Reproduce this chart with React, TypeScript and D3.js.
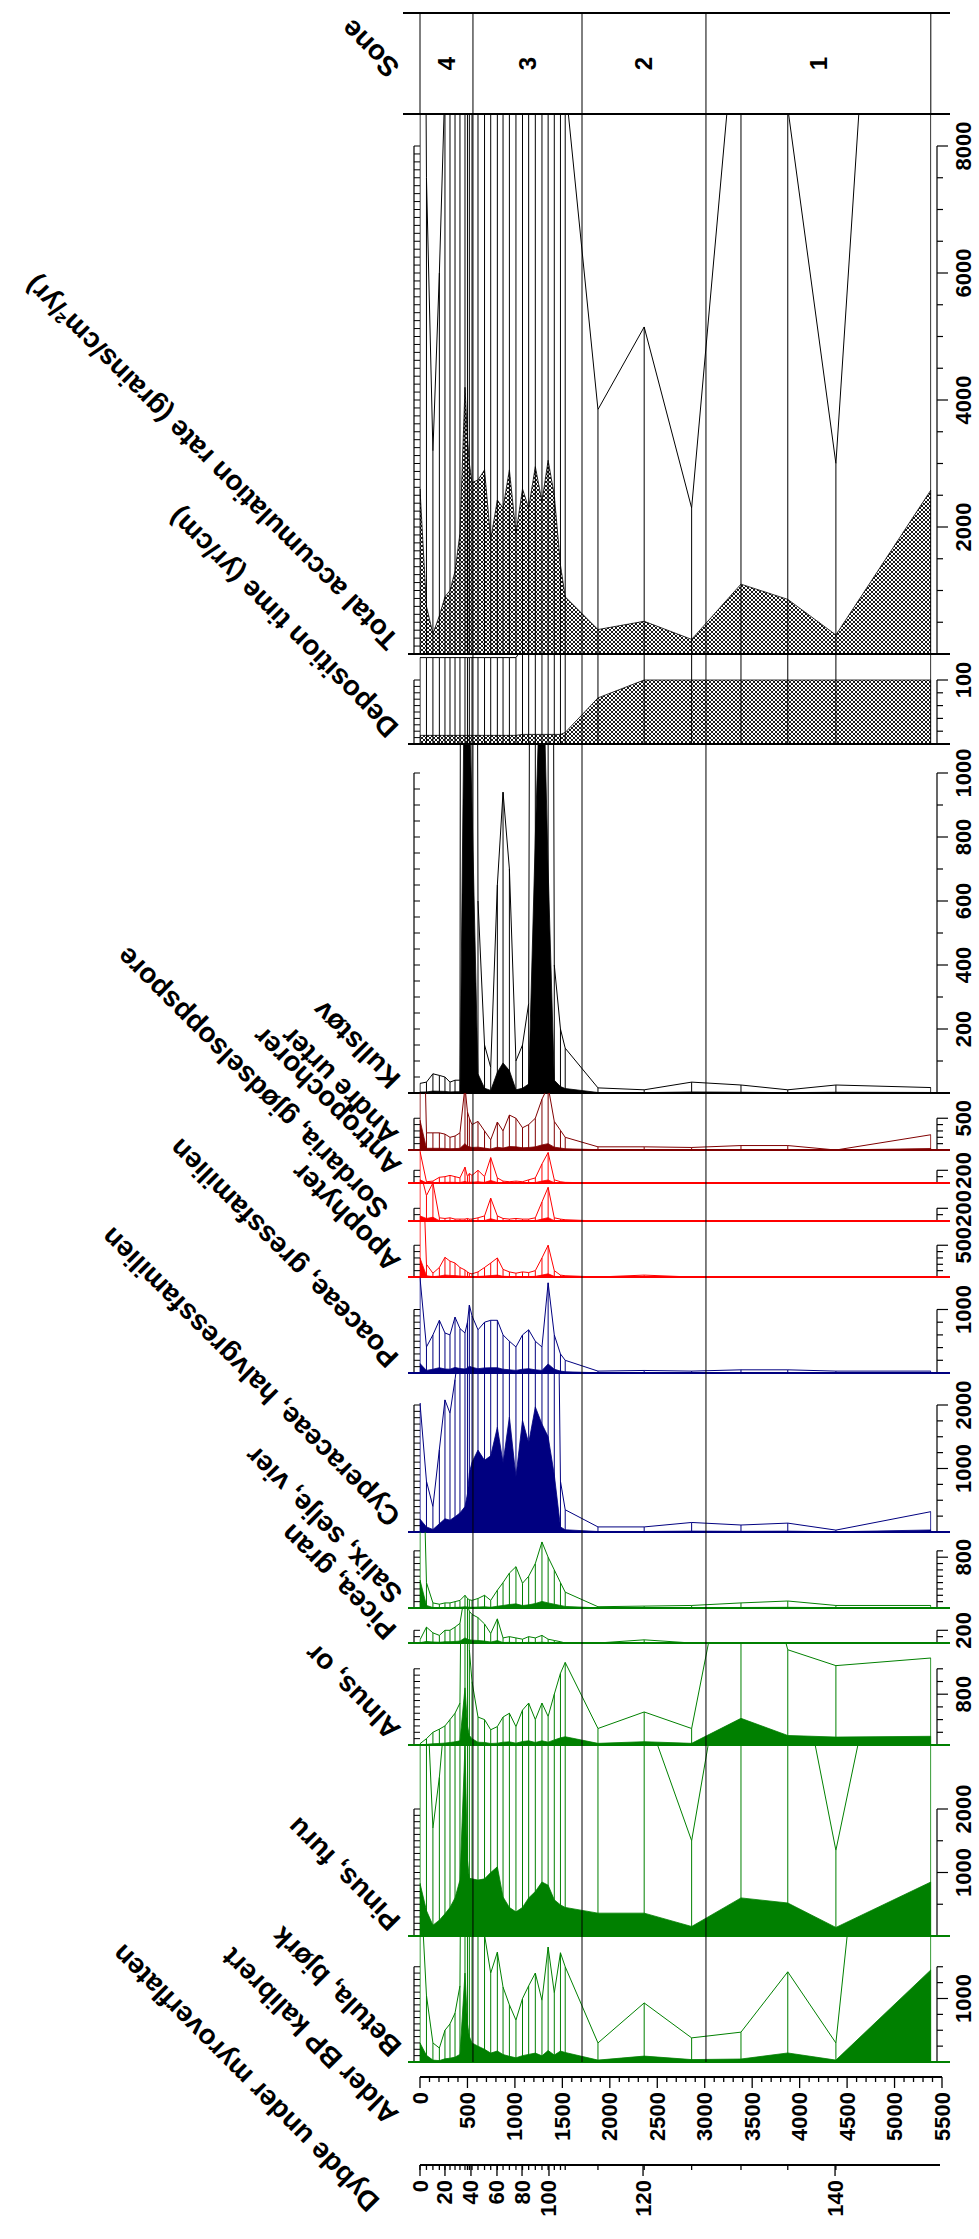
import React from "react";
import * as d3 from "d3";

// ---------- DATA ----------
const sampleAges = [0, 68, 136, 204, 263, 316, 369, 421, 474, 500, 520, 548, 611, 680, 745, 815, 875, 942, 1011, 1080, 1145, 1215, 1285, 1350, 1415, 1480, 1530, 1875, 2362, 2862, 3382, 3875, 4382, 5382];

const totalAccum = [2600, 750, 320, 600, 900, 1000, 1300, 1900, 4200, 3400, 3000, 2700, 2740, 2900, 1800, 2425, 2300, 2900, 1900, 2600, 2300, 2950, 2400, 3050, 2500, 1400, 900, 385, 515, 230, 1100, 860, 300, 2580];
const depositionTime = [13.5, 13.5, 13.5, 13.5, 13.5, 13.5, 13.5, 13.5, 13.5, 13.5, 13.5, 13.5, 13.5, 13.5, 13.5, 13.5, 13.5, 13.5, 13.5, 15, 15, 15, 15, 15, 15, 15, 18, 72, 100, 100, 100, 100, 100, 100];
const kullstov = [3, 3.4, 6, 5.5, 5, 3.4, 4, 4, 1500, 1500, 1200, 900, 60, 15, 8, 65, 94, 70, 10, 15, 28, 800, 1500, 700, 40, 20, 14, 1.6, 1, 3.4, 2.5, 1, 2.5, 1.7];
const andreUrter = [470, 27, 27, 27, 25, 20, 22, 27, 100, 60, 50, 40, 45, 30, 16, 44, 30, 55, 50, 35, 40, 50, 80, 100, 45, 31, 20, 5, 5, 4, 7, 7, 0, 24];
const antropochorer = [50, 2, 3, 9, 10, 12, 10, 8, 25, 10, 15, 12, 20, 10, 40, 8, 3, 2, 3, 2, 5, 8, 30, 48, 5, 2, 1, 0, 0, 0, 0, 0, 0, 0];
const sordaria = [80, 40, 60, 5, 4, 5, 3, 3, 3, 4, 3, 3, 5, 8, 36, 8, 4, 3, 4, 3, 3, 5, 30, 53, 5, 3, 2, 0, 0, 0, 0, 0, 0, 0];
const apophyter = [300, 20, 6, 15, 31, 25, 22, 15, 11, 8, 6, 5, 8, 15, 22, 30, 12, 8, 6, 8, 7, 10, 30, 50, 10, 3, 2, 0, 3, 0, 0, 0, 0, 0];
const poaceae = [150, 41, 60, 83, 63, 60, 88, 70, 63, 80, 107, 90, 68, 80, 83, 83, 60, 50, 41, 60, 68, 50, 41, 142, 60, 30, 20, 3, 4, 3, 5, 5, 3, 3];
const cyperaceae = [203, 80, 40, 130, 208, 187, 240, 300, 400, 600, 930, 1100, 1290, 1130, 1200, 1650, 1090, 1810, 870, 1760, 1400, 1970, 1700, 1500, 900, 80, 35, 8, 8, 15, 11, 14, 3, 32];
const salix = [440, 40, 8, 6, 8, 8, 10, 12, 20, 15, 13, 12, 15, 20, 12, 28, 40, 55, 65, 39, 50, 70, 104, 80, 60, 40, 25, 2, 3, 4, 8, 11, 4, 4];
const picea = [5, 25, 16, 12, 20, 20, 25, 31, 80, 60, 50, 45, 40, 30, 15, 38, 8, 10, 8, 6, 10, 8, 12, 6, 4, 2, 0, 0, 5, 0, 0, 0, 0, 0];
const alnus = [2, 10, 20, 25, 30, 40, 50, 66, 900, 300, 150, 100, 44, 40, 24, 29, 44, 50, 29, 55, 66, 40, 66, 45, 80, 113, 130, 26, 52, 26, 420, 150, 125, 137];
const pinus = [830, 400, 170, 250, 350, 450, 600, 880, 3000, 1200, 910, 900, 880, 900, 1000, 1090, 615, 450, 380, 450, 600, 700, 850, 800, 570, 490, 450, 360, 360, 150, 600, 520, 135, 850];
const betula = [300, 105, 30, 22, 50, 60, 77, 120, 1400, 600, 400, 300, 250, 200, 140, 173, 118, 90, 66, 100, 120, 140, 97, 181, 109, 172, 150, 30, 93, 38, 47, 142, 30, 1450];

const zoneLabels = ["4", "3", "2", "1"];
const zoneEdges = [0, 558, 1707, 3013, 5382];
const ageTickValues = d3.range(0, 5501, 500);
const depthLabels = [0, 20, 40, 60, 80, 100, 120, 140];
const depthLabelAges = [0, 263, 537, 811, 1075, 1359, 2350, 4373];

// ---------- LAYOUT ----------
const W = 979;
const H = 2239;
const FONT = "'Liberation Sans', Arial, Helvetica, sans-serif";
const K = 0.0635; // px per grain/cm2/yr (common scale)
const EX = 10; // exaggeration
const GREEN = "#008000";
const NAVY = "#000080";
const RED = "#ff0000";
const MAROON = "#800000";

const x = d3.scaleLinear().domain([0, 5500]).range([420, 942]);
const xFirst = x(sampleAges[0]);
const xLast = x(sampleAges[sampleAges.length - 1]);

type PanelDef = {
  key: string;
  label: string;
  values: number[];
  color: string;
  fill: string;
  top: number;
  base: number;
  k: number;
  axisMax: number;
  tickLabels: number[];
  rStep: number;
  lStep: number;
  lab: [number, number];
};

const panels: PanelDef[] = [
  { key: "total", label: "Total accumulation rate (grains/cm²/yr)", values: totalAccum, color: "#000", fill: "url(#hatch)", top: 114, base: 654, k: K, axisMax: 8000, tickLabels: [2000, 4000, 6000, 8000], rStep: 500, lStep: 125, lab: [400, 638] },
  { key: "dep", label: "Deposition time (yr/cm)", values: depositionTime, color: "#000", fill: "url(#hatch)", top: 654, base: 744, k: 0.64, axisMax: 100, tickLabels: [100], rStep: 20, lStep: 10, lab: [400, 726] },
  { key: "kull", label: "Kullstøv", values: kullstov, color: "#000", fill: "#000", top: 744, base: 1093, k: 0.32, axisMax: 1000, tickLabels: [200, 400, 600, 800, 1000], rStep: 100, lStep: 50, lab: [402, 1077] },
  { key: "andre", label: "Andre urter", values: andreUrter, color: MAROON, fill: MAROON, top: 1093, base: 1150, k: K, axisMax: 500, tickLabels: [500], rStep: 100, lStep: 100, lab: [400, 1133] },
  { key: "antro", label: "Antropochorer", values: antropochorer, color: RED, fill: RED, top: 1150, base: 1183, k: K, axisMax: 200, tickLabels: [200], rStep: 100, lStep: 100, lab: [403, 1164] },
  { key: "sord", label: "Sordaria, gjødselsoppspore", values: sordaria, color: RED, fill: RED, top: 1183, base: 1221, k: K, axisMax: 200, tickLabels: [200], rStep: 100, lStep: 100, lab: [390, 1207] },
  { key: "apo", label: "Apophyter", values: apophyter, color: RED, fill: RED, top: 1221, base: 1277, k: K, axisMax: 500, tickLabels: [500], rStep: 100, lStep: 100, lab: [402, 1260] },
  { key: "poa", label: "Poaceae, gressfamilien", values: poaceae, color: NAVY, fill: NAVY, top: 1277, base: 1373, k: K, axisMax: 1000, tickLabels: [1000], rStep: 200, lStep: 100, lab: [400, 1356] },
  { key: "cyp", label: "Cyperaceae, halvgressfamilien", values: cyperaceae, color: NAVY, fill: NAVY, top: 1373, base: 1532, k: K, axisMax: 2000, tickLabels: [1000, 2000], rStep: 250, lStep: 100, lab: [402, 1515] },
  { key: "sal", label: "Salix, selje, vier", values: salix, color: GREEN, fill: GREEN, top: 1532, base: 1608, k: K, axisMax: 900, tickLabels: [800], rStep: 100, lStep: 100, lab: [404, 1592] },
  { key: "pic", label: "Picea, gran", values: picea, color: GREEN, fill: GREEN, top: 1608, base: 1643, k: K, axisMax: 200, tickLabels: [200], rStep: 100, lStep: 100, lab: [398, 1628] },
  { key: "aln", label: "Alnus, or", values: alnus, color: GREEN, fill: GREEN, top: 1643, base: 1745, k: K, axisMax: 1200, tickLabels: [800], rStep: 200, lStep: 100, lab: [402, 1728] },
  { key: "pin", label: "Pinus, furu", values: pinus, color: GREEN, fill: GREEN, top: 1745, base: 1936, k: K, axisMax: 2000, tickLabels: [1000, 2000], rStep: 500, lStep: 100, lab: [402, 1919] },
  { key: "bet", label: "Betula, bjørk", values: betula, color: GREEN, fill: GREEN, top: 1936, base: 2062, k: K, axisMax: 1500, tickLabels: [1000], rStep: 250, lStep: 100, lab: [403, 2045] },
];

const ZONE_TOP = 13;
const ZONE_BOT = 114;
const AGE_AXIS_Y = 2077;
const DEPTH_AXIS_Y = 2165;
const R_SPINE = 937;
const L_SPINE = 414;
const LABEL_SIZE = 28;
const TICK_SIZE = 22;

function Panel({ p }: { p: PanelDef }) {
  const y = (v: number) => p.base - v * p.k;
  const area = d3
    .area<number>()
    .x((_, i) => x(sampleAges[i]))
    .y0(p.base)
    .y1((d) => y(d));
  const line = d3
    .line<number>()
    .x((_, i) => x(sampleAges[i]))
    .y((d) => y(d * EX));
  const clipId = `clip-${p.key}`;
  const rTicks = d3.range(0, p.axisMax + 0.001, p.rStep);
  const lTicks = d3.range(0, p.axisMax + 0.001, p.lStep);
  const yMax = y(p.axisMax);
  return (
    <g>
      <defs>
        <clipPath id={clipId}>
          <rect x={xFirst - 0.5} y={p.top} width={xLast - xFirst + 1} height={p.base - p.top} />
        </clipPath>
      </defs>
      <g clipPath={`url(#${clipId})`}>
        <path d={area(p.values) || ""} fill={p.fill} stroke={p.color} strokeWidth={0.8} />
        {p.values.map((v, i) => (
          <line key={i} x1={x(sampleAges[i])} x2={x(sampleAges[i])} y1={p.base} y2={Math.max(p.top, y(v * EX))} stroke={p.color} strokeWidth={1} />
        ))}
        <path d={line(p.values) || ""} fill="none" stroke={p.color} strokeWidth={1} />
      </g>
      {/* left ladder axis */}
      <line x1={L_SPINE} x2={L_SPINE} y1={p.base} y2={yMax} stroke="#000" strokeWidth={1.2} />
      {lTicks.map((t) => (
        <line key={`l${t}`} x1={L_SPINE} x2={xFirst} y1={y(t)} y2={y(t)} stroke="#000" strokeWidth={1} />
      ))}
      {/* right axis */}
      <line x1={R_SPINE} x2={R_SPINE} y1={p.base} y2={yMax} stroke="#000" strokeWidth={1.2} />
      {rTicks.map((t) => {
        const major = p.tickLabels.includes(t);
        return <line key={`r${t}`} x1={R_SPINE} x2={R_SPINE + (major ? 11 : 6)} y1={y(t)} y2={y(t)} stroke="#000" strokeWidth={1.2} />;
      })}
      {p.tickLabels.map((t) => (
        <text key={`t${t}`} transform={`translate(963,${y(t)}) rotate(-90)`} textAnchor="middle" dominantBaseline="central" fontFamily={FONT} fontWeight="bold" fontSize={TICK_SIZE}>
          {t}
        </text>
      ))}
      {/* baseline */}
      <line x1={408} x2={950} y1={p.base} y2={p.base} stroke={p.color} strokeWidth={2} />
      {/* label */}
      <text transform={`translate(${p.lab[0]},${p.lab[1]}) rotate(-135)`} fontFamily={FONT} fontWeight="bold" fontSize={LABEL_SIZE} fill="#000">
        {p.label}
      </text>
    </g>
  );
}

export default function App() {
  const minorAges = d3.range(0, 5501, 100);
  return (
    <svg width={W} height={H} viewBox={`0 0 ${W} ${H}`} style={{ position: "absolute", left: 0, top: 0, background: "#fff" }}>
      <defs>
        <pattern id="hatch" width="4" height="4" patternUnits="userSpaceOnUse">
          <rect width="4" height="4" fill="#fff" />
          <path d="M0,0 L4,4 M4,0 L0,4" stroke="#000" strokeWidth="0.9" />
        </pattern>
      </defs>
      <rect width={W} height={H} fill="#fff" />

      {/* zone panel */}
      <line x1={403} x2={950} y1={ZONE_TOP} y2={ZONE_TOP} stroke="#000" strokeWidth={2} />
      <line x1={403} x2={950} y1={ZONE_BOT} y2={ZONE_BOT} stroke="#000" strokeWidth={2} />
      <line x1={xFirst} x2={xFirst} y1={ZONE_TOP} y2={ZONE_BOT} stroke="#000" strokeWidth={1} />
      <line x1={xLast} x2={xLast} y1={ZONE_TOP} y2={ZONE_BOT} stroke="#000" strokeWidth={1} />
      {zoneLabels.map((z, i) => (
        <text key={z} transform={`translate(${x((zoneEdges[i] + zoneEdges[i + 1]) / 2)},${(ZONE_TOP + ZONE_BOT) / 2}) rotate(-90)`} textAnchor="middle" dominantBaseline="central" fontFamily={FONT} fontWeight="bold" fontSize={24}>
          {z}
        </text>
      ))}
      <text transform={`translate(401,66) rotate(-135)`} fontFamily={FONT} fontWeight="bold" fontSize={LABEL_SIZE}>
        Sone
      </text>

      {panels.map((p) => (
        <Panel key={p.key} p={p} />
      ))}

      {/* zone boundaries */}
      {zoneEdges.slice(1, -1).map((a) => (
        <line key={a} x1={x(a)} x2={x(a)} y1={ZONE_TOP} y2={2062} stroke="#000" strokeWidth={1} />
      ))}

      {/* age axis */}
      <line x1={x(0)} x2={x(5500)} y1={AGE_AXIS_Y} y2={AGE_AXIS_Y} stroke="#000" strokeWidth={2} />
      {minorAges.map((a) => (
        <line key={a} x1={x(a)} x2={x(a)} y1={AGE_AXIS_Y} y2={AGE_AXIS_Y + (a % 500 === 0 ? 11 : 5)} stroke="#000" strokeWidth={1.3} />
      ))}
      {ageTickValues.map((a) => (
        <text key={a} transform={`translate(${x(a)},${AGE_AXIS_Y + 15}) rotate(-90)`} textAnchor="end" dominantBaseline="central" fontFamily={FONT} fontWeight="bold" fontSize={TICK_SIZE}>
          {a}
        </text>
      ))}
      <text transform={`translate(400,2113) rotate(-135)`} fontFamily={FONT} fontWeight="bold" fontSize={LABEL_SIZE}>
        Alder BP kalibrert
      </text>

      {/* depth axis */}
      <line x1={x(0)} x2={940} y1={DEPTH_AXIS_Y} y2={DEPTH_AXIS_Y} stroke="#000" strokeWidth={2} />
      {sampleAges.slice(0, -1).map((a, i) => (
        <line key={i} x1={x(a)} x2={x(a)} y1={DEPTH_AXIS_Y} y2={DEPTH_AXIS_Y + 5} stroke="#000" strokeWidth={1.3} />
      ))}
      {depthLabels.map((d, i) => (
        <g key={d}>
          <line x1={x(depthLabelAges[i])} x2={x(depthLabelAges[i])} y1={DEPTH_AXIS_Y} y2={DEPTH_AXIS_Y + 11} stroke="#000" strokeWidth={1.3} />
          <text transform={`translate(${x(depthLabelAges[i])},${DEPTH_AXIS_Y + 15}) rotate(-90)`} textAnchor="end" dominantBaseline="central" fontFamily={FONT} fontWeight="bold" fontSize={TICK_SIZE}>
            {d}
          </text>
        </g>
      ))}
      <text transform={`translate(381,2200) rotate(-135)`} fontFamily={FONT} fontWeight="bold" fontSize={LABEL_SIZE}>
        Dybde under myroverflaten
      </text>
    </svg>
  );
}
